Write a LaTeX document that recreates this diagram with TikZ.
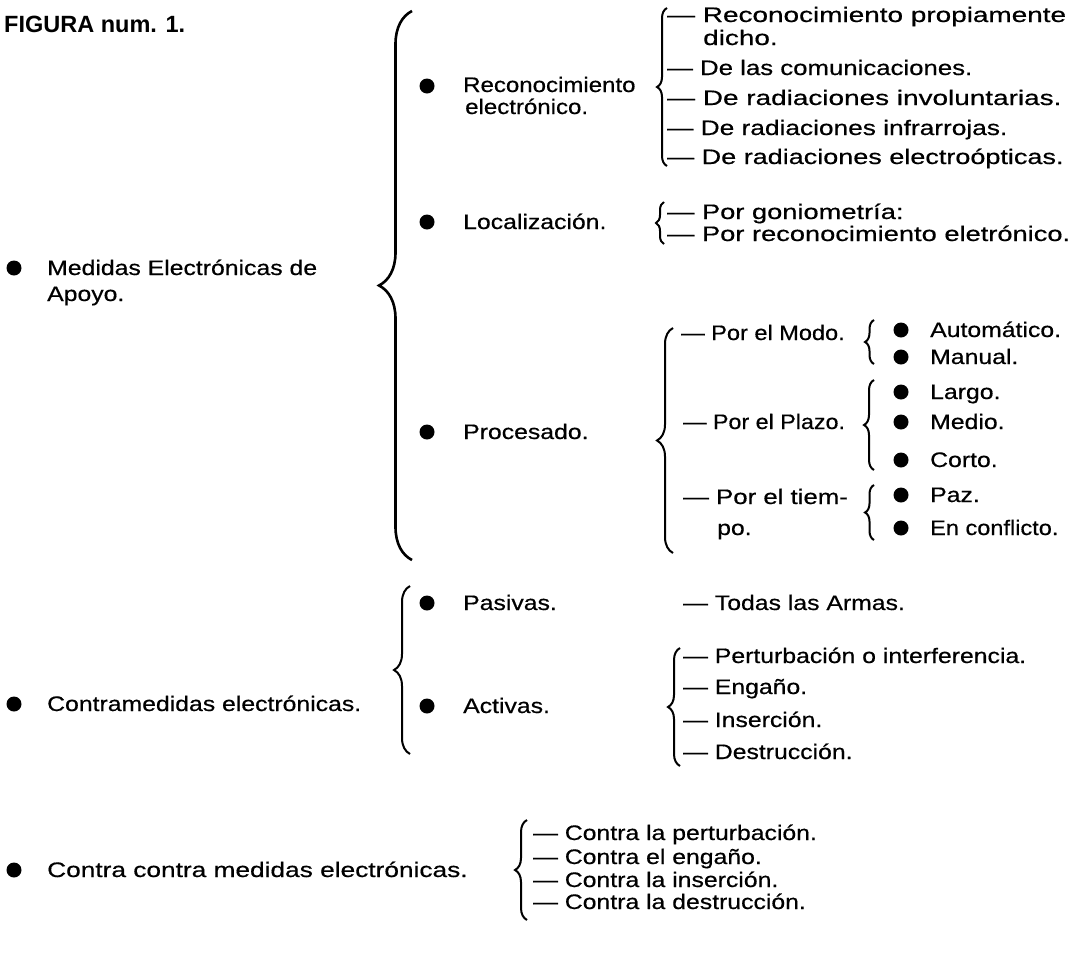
\documentclass[tikz,border=0pt]{standalone}
\usepackage{graphicx}
\usepackage{fontspec}
\setmainfont{Liberation Sans}[FakeStretch=1.18, FakeBold=0.5]
\newfontfamily\titlefont{Liberation Sans}
\usetikzlibrary{positioning, decorations.pathreplacing}
\newcommand{\wid}[2]{\scalebox{#1}[1]{#2}}
\tikzset{
  txt/.style={anchor=base west, inner sep=0pt, font=\fontsize{21}{25}\selectfont},
  title/.style={anchor=base west, inner sep=0pt, font=\titlefont\bfseries\fontsize{23.5}{28}\selectfont},
  dot/.style={circle, fill=black, inner sep=0pt, minimum size=15pt},
  curly/.style={decorate, decoration={brace, amplitude=#1}, line width=2pt}
}

\begin{document}
\begin{tikzpicture}[x=1pt, y=-1pt]
    \useasboundingbox (0,0) rectangle (1073,959);
    % Title
    \node[title] (fig) at (4,32) {FIGURA num. 1.};

    % First level
    \node[dot] (b1) at (14,268) {};
    \node[txt] (med1) at (47,275) {Medidas Electrónicas de};
    \node[txt] (med2) at (47,301) {Apoyo.};
    \node[dot] (b2) at (14,704) {};
    \node[txt] (cm) at (47,711) {Contramedidas electrónicas.};
    \node[dot] (b3) at (14,870) {};
    \node[txt] (ccm) at (47,877) {\wid{1.06}{Contra contra medidas electrónicas.}};

    % Second level
    \node[dot] (b4) at (427,86) {};
    \node[txt] (rec1) at (463,92) {\wid{0.97}{Reconocimiento}};
    \node[txt] (rec2) at (465,114) {\wid{0.97}{electrónico.}};
    \node[dot] (b5) at (427,222) {};
    \node[txt] (loc) at (463,229) {Localización.};
    \node[dot] (b6) at (427,432) {};
    \node[txt] (pro) at (463,439) {Procesado.};
    \node[dot] (b7) at (427,603) {};
    \node[txt] (pas) at (463,610) {Pasivas.};
    \node[dot] (b8) at (427,706) {};
    \node[txt] (act) at (463,713) {Activas.};

    % Reconocimiento
    \node[txt] (r1) at (667,22) {\wid{1.127}{— Reconocimiento propiamente}};
    \node[txt] (r1b) at (703,45) {\wid{1.127}{dicho.}};
    \node[txt] (r2) at (667,75) {\wid{1.04}{— De las comunicaciones.}};
    \node[txt] (r3) at (667,105) {\wid{1.127}{— De radiaciones involuntarias.}};
    \node[txt] (r4) at (667,135) {\wid{1.06}{— De radiaciones infrarrojas.}};
    \node[txt] (r5) at (667,164) {\wid{1.09}{— De radiaciones electroópticas.}};

    % Localizacion
    \node[txt] (l1) at (667,219) {\wid{1.1}{— Por goniometría:}};
    \node[txt] (l2) at (667,241) {\wid{1.1}{— Por reconocimiento eletrónico.}};

    % Procesado
    \node[txt] (p1) at (681,340) {\wid{0.95}{— Por el Modo.}};
    \node[txt] (p2) at (683,429) {\wid{0.94}{— Por el Plazo.}};
    \node[txt] (p3) at (683,504) {\wid{1.04}{— Por el tiem-}};
    \node[txt] (p3b) at (717,535) {po.};
    \node[dot] (m1d) at (901,330) {};
    \node[txt] (m1) at (930,337) {Automático.};
    \node[dot] (m2d) at (901,357) {};
    \node[txt] (m2) at (930,364) {Manual.};
    \node[dot] (z1d) at (901,392) {};
    \node[txt] (z1) at (930,399) {Largo.};
    \node[dot] (z2d) at (901,422) {};
    \node[txt] (z2) at (930,429) {Medio.};
    \node[dot] (z3d) at (901,460) {};
    \node[txt] (z3) at (930,467) {Corto.};
    \node[dot] (t1d) at (901,495) {};
    \node[txt] (t1) at (930,502) {Paz.};
    \node[dot] (t2d) at (901,528) {};
    \node[txt] (t2) at (930,535) {\wid{0.95}{En conflicto.}};

    % Contramedidas
    \node[txt] (a0) at (683,610) {— Todas las Armas.};
    \node[txt] (a1) at (683,663) {— Perturbación o interferencia.};
    \node[txt] (a2) at (683,694) {— Engaño.};
    \node[txt] (a3) at (683,727) {— Inserción.};
    \node[txt] (a4) at (683,759) {— Destrucción.};

    % Contra contra medidas
    \node[txt] (c1) at (533,840) {— Contra la perturbación.};
    \node[txt] (c2) at (533,864) {— Contra el engaño.};
    \node[txt] (c3) at (533,887) {— Contra la inserción.};
    \node[txt] (c4) at (533,909) {— Contra la destrucción.};

    % Brace ends
    \coordinate (aT) at (412,11);   \coordinate (aB) at (412,560);
    \coordinate (bT) at (667,8);    \coordinate (bB) at (667,166);
    \coordinate (cT) at (664,202);  \coordinate (cB) at (664,244);
    \coordinate (dT) at (673,328);  \coordinate (dB) at (673,553);
    \coordinate (eT) at (874,320);  \coordinate (eB) at (874,364);
    \coordinate (fT) at (874,380);  \coordinate (fB) at (874,470);
    \coordinate (gT) at (874,485);  \coordinate (gB) at (874,540);
    \coordinate (hT) at (410,586);  \coordinate (hB) at (410,754);
    \coordinate (iT) at (680,648);  \coordinate (iB) at (680,766);
    \coordinate (jT) at (527,820);  \coordinate (jB) at (527,920);

    % Drawing braces
    \draw[curly=33pt, line width=2.6pt] (aB) -- (aT);
    \draw[curly=10pt] (bB) -- (bT);
    \draw[curly=8pt] (cB) -- (cT);
    \draw[curly=16pt] (dB) -- (dT);
    \draw[curly=9pt] (eB) -- (eT);
    \draw[curly=10pt] (fB) -- (fT);
    \draw[curly=9pt] (gB) -- (gT);
    \draw[curly=16pt] (hB) -- (hT);
    \draw[curly=12pt] (iB) -- (iT);
    \draw[curly=12pt] (jB) -- (jT);
\end{tikzpicture}
\end{document}
